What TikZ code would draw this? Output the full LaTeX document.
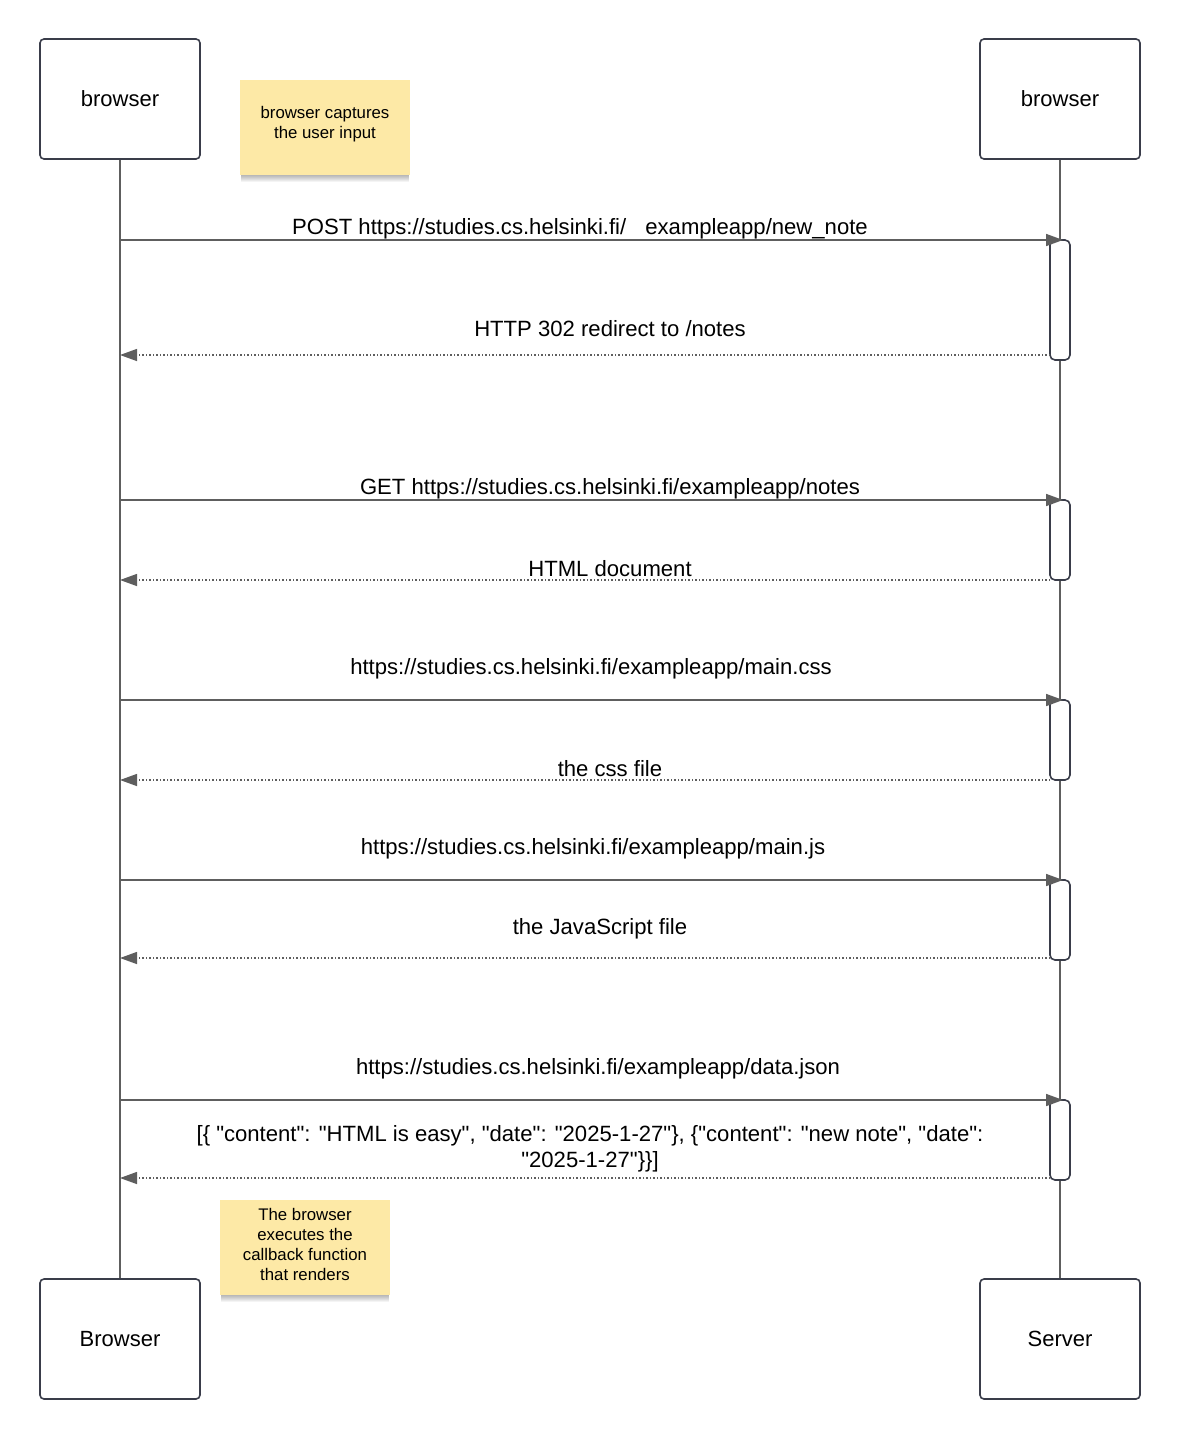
\documentclass[tikz,border=0pt]{standalone}
\usepackage{fontspec}
\setmainfont{Liberation Sans}
\usetikzlibrary{arrows.meta,calc}
\definecolor{boxline}{HTML}{3A3D4A}
\definecolor{lifeline}{HTML}{5E5E5E}
\definecolor{notefill}{HTML}{FDE9A6}
\newcommand\qq{\textquotedbl}
\begin{document}
\begin{tikzpicture}[x=1pt,y=-1pt,
  actor/.style={draw=boxline, line width=1.6pt, rounded corners=4pt, fill=white,
    minimum width=160pt, minimum height=120pt, inner sep=0pt, font=\fontsize{22}{26}\selectfont},
  note/.style={fill=notefill, minimum width=170pt, minimum height=95pt, inner sep=0pt},
  notetext/.style={label={[align=center, inner sep=0pt, yshift=3pt, font=\fontsize{16.8}{20}\selectfont]center:#1}},
  act/.style={draw=boxline, line width=1.6pt, rounded corners=5pt, fill=white,
    minimum width=20pt, inner sep=0pt},
  life/.style={draw=lifeline, line width=1.8pt},
  req/.style={draw=lifeline, line width=1.6pt, -{Triangle[length=17pt,width=12pt]}},
  resp/.style={draw=lifeline, line width=1.3pt, dash pattern=on 1.3pt off 2.2pt, -{Triangle[length=17pt,width=12pt]}},
  lbl/.style={font=\fontsize{22.1}{26}\selectfont, inner sep=0pt, align=center}
]
\useasboundingbox (0,0) rectangle (1180,1440);
\fill[white] (0,0) rectangle (1180,1440);

% actors
\node[actor] (b1) at (120,99) {browser};
\node[actor] (s1) at (1060,99) {browser};
\node[actor] (b2) at (120,1339) {Browser};
\node[actor] (s2) at (1060,1339) {Server};

% lifelines
\draw[life] (b1.south) -- (b2.north);
\draw[life] (s1.south) -- (s2.north);

% activations
\node[act, minimum height=120pt] (a1) at (1060,300) {};
\node[act, minimum height=80pt] (a2) at (1060,540) {};
\node[act, minimum height=80pt] (a3) at (1060,740) {};
\node[act, minimum height=80pt] (a4) at (1060,920) {};
\node[act, minimum height=80pt] (a5) at (1060,1140) {};

% notes
\node[note, notetext={browser captures\\the user input}] (n1) at (325,127.5) {};
\node[note, notetext={The browser\\executes the\\callback function\\that renders}] (n2) at (305,1247.5) {};
\foreach \nn in {n1,n2}{
  \foreach \i in {1,...,7}{
    \fill[black, opacity=0.045] ($(\nn.south west)+(1,0)$) rectangle ($(\nn.south east)+(-1,\i)$);
  }
}

% message end points
\coordinate (p1a) at (120,240);  \coordinate (p1b) at (1063,240);
\coordinate (r1a) at (1050,355); \coordinate (r1b) at (120,355);
\coordinate (p2a) at (120,500);  \coordinate (p2b) at (1063,500);
\coordinate (r2a) at (1050,580); \coordinate (r2b) at (120,580);
\coordinate (p3a) at (120,700);  \coordinate (p3b) at (1063,700);
\coordinate (r3a) at (1050,780); \coordinate (r3b) at (120,780);
\coordinate (p4a) at (120,880);  \coordinate (p4b) at (1063,880);
\coordinate (r4a) at (1050,958); \coordinate (r4b) at (120,958);
\coordinate (p5a) at (120,1100); \coordinate (p5b) at (1063,1100);
\coordinate (r5a) at (1050,1178);\coordinate (r5b) at (120,1178);

\draw[req] (p1a) -- (p1b);
\draw[resp] (r1a) -- (r1b);
\draw[req] (p2a) -- (p2b);
\draw[resp] (r2a) -- (r2b);
\draw[req] (p3a) -- (p3b);
\draw[resp] (r3a) -- (r3b);
\draw[req] (p4a) -- (p4b);
\draw[resp] (r4a) -- (r4b);
\draw[req] (p5a) -- (p5b);
\draw[resp] (r5a) -- (r5b);

% labels
\node[lbl] (l1) at (580,229) {POST https://studies.cs.helsinki.fi/\hspace{13pt} exampleapp/new\_note};
\node[lbl] (l2) at (610,329) {HTTP 302 redirect to /notes};
\node[lbl] (l3) at (610,489) {GET https://studies.cs.helsinki.fi/exampleapp/notes};
\node[lbl] (l4) at (610,569) {HTML document};
\node[lbl] (l5) at (591,669) {https://studies.cs.helsinki.fi/exampleapp/main.css};
\node[lbl] (l6) at (610,769) {the css file};
\node[lbl] (l7) at (593,849) {https://studies.cs.helsinki.fi/exampleapp/main.js};
\node[lbl] (l8) at (600,929) {the JavaScript file};
\node[lbl] (l9) at (598,1069) {https://studies.cs.helsinki.fi/exampleapp/data.json};
\node[lbl] (l10) at (590,1149) {[\{ \qq content\qq: \qq HTML is easy\qq, \qq date\qq: \qq 2025-1-27\qq\}, \{\qq content\qq: \qq new note\qq, \qq date\qq:\\\qq 2025-1-27\qq\}\}]};
\end{tikzpicture}
\end{document}
